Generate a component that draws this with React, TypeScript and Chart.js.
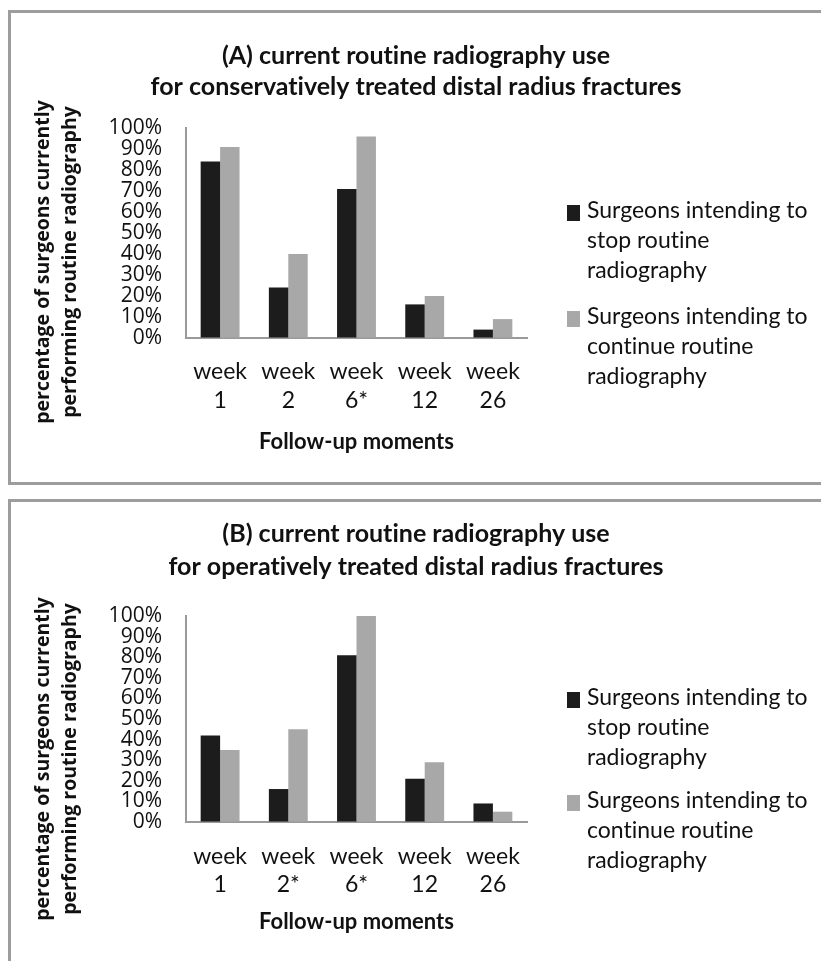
import React, { useEffect, useRef } from 'react';
import { Chart, registerables, layouts } from 'chart.js';

Chart.register(...registerables);

// ---------- data ----------
const categoriesA: string[][] = [['week', '1'], ['week', '2'], ['week', '6*'], ['week', '12'], ['week', '26']];
const categoriesB: string[][] = [['week', '1'], ['week', '2*'], ['week', '6*'], ['week', '12'], ['week', '26']];

const stopA = [84, 24, 71, 16, 4];
const continueA = [91, 40, 96, 20, 9];
const stopB = [42, 16, 81, 21, 9];
const continueB = [35, 45, 100, 29, 5];

const seriesNames = [
  'Surgeons intending to stop routine radiography',
  'Surgeons intending to continue routine radiography',
];

const titleA = ['(A) current routine radiography use', 'for conservatively treated distal radius fractures'];
const titleB = ['(B) current routine radiography use', 'for operatively treated distal radius fractures'];

const yAxisTitle = ['percentage of surgeons currently', 'performing routine radiography'];
const xAxisTitle = 'Follow-up moments';

const yMin = 0;
const yMax = 100;
const yStep = 10;

// ---------- styles ----------
const BLACK = '#1c1c1c';
const GREY = '#a8a8a8';
const TEXT = '#111111';
const AXIS = '#9a9a9a';
const CALIBRI = 'Lato, "Open Sans", sans-serif';
const SEGOE = '"Open Sans", "DejaVu Sans", sans-serif';

type Layout = {
  height: number;
  titleLH: number;
  titlePadTop: number;
  titlePadBottom: number;
  xLabelPad: number;
  xLabelLH: number;
  xHeight: number;
  padBottom: number;
  legendFirst: number;
  legendStep: number;
  yTitleShift: number;
};

const layoutA: Layout = {
  height: 469,
  titleLH: 31,
  titlePadTop: 27.5,
  titlePadBottom: 25.5,
  xLabelPad: 19.5,
  xLabelLH: 29,
  xHeight: 117,
  padBottom: 27,
  legendFirst: 83,
  legendStep: 106,
  yTitleShift: 29,
};

const layoutB: Layout = {
  height: 470,
  titleLH: 33,
  titlePadTop: 15.5,
  titlePadBottom: 32.5,
  xLabelPad: 21,
  xLabelLH: 28,
  xHeight: 113,
  padBottom: 37,
  legendFirst: 82,
  legendStep: 103,
  yTitleShift: 40,
};

const CANVAS_W = 810;
const Y_AXIS_W = 175;
const LEGEND_W = 294;
const TITLE_SIZE = 25;

function wrapText(ctx: CanvasRenderingContext2D, text: string, maxWidth: number): string[] {
  const words = text.split(' ');
  const lines: string[] = [];
  let cur = '';
  for (const w of words) {
    const test = cur ? cur + ' ' + w : w;
    if (ctx.measureText(test).width > maxWidth && cur) {
      lines.push(cur);
      cur = w;
    } else {
      cur = test;
    }
  }
  if (cur) lines.push(cur);
  return lines;
}

function BarPanel(props: {
  title: string[];
  categories: string[][];
  stop: number[];
  cont: number[];
  lay: Layout;
}) {
  const ref = useRef<HTMLCanvasElement | null>(null);

  useEffect(() => {
    const canvas = ref.current;
    if (!canvas) return;
    const lay = props.lay;

    const legendBox: any = {
      position: 'right',
      fullSize: false,
      weight: 0,
      options: { stack: undefined, stackWeight: 1 },
      left: 0,
      top: 0,
      right: 0,
      bottom: 0,
      width: 0,
      height: 0,
      isHorizontal() {
        return false;
      },
      update(_maxWidth: number, maxHeight: number) {
        this.width = LEGEND_W;
        this.height = maxHeight;
      },
      draw() {},
    };

    const plainText = {
      id: 'plainText',
      beforeUpdate(chart: any) {
        (chart.ctx as any).textRendering = 'optimizeSpeed';
      },
      beforeDraw(chart: any) {
        (chart.ctx as any).textRendering = 'optimizeSpeed';
      },
    };

    const sideLegend = {
      id: 'sideLegend',
      beforeInit(chart: any) {
        legendBox.draw = () => {
          const ctx: CanvasRenderingContext2D = chart.ctx;
          const area = chart.chartArea;
          ctx.save();
          ctx.font = `23px ${CALIBRI}`;
          ctx.textBaseline = 'middle';
          ctx.textAlign = 'left';
          let y = area.top + lay.legendFirst;
          chart.data.datasets.forEach((ds: any) => {
            const lines = wrapText(ctx, ds.label, 230);
            ctx.fillStyle = ds.backgroundColor;
            ctx.fillRect(area.right + 40, y - 8 + 2, 13, 16);
            ctx.fillStyle = TEXT;
            lines.forEach((ln, i) => ctx.fillText(ln, area.right + 60, y + i * 30));
            y += lay.legendStep;
          });
          ctx.restore();
        };
        layouts.addBox(chart, legendBox);
      },
    };

    const yTitlePlugin = {
      id: 'yTitle',
      afterDraw(chart: any) {
        const ctx: CanvasRenderingContext2D = chart.ctx;
        const area = chart.chartArea;
        const cy = (area.top + area.bottom) / 2 + lay.yTitleShift;
        const xs = [32, 59];
        ctx.save();
        ctx.font = `bold 19.5px ${SEGOE}`;
        ctx.fillStyle = TEXT;
        ctx.textAlign = 'center';
        ctx.textBaseline = 'middle';
        yAxisTitle.forEach((t, i) => {
          ctx.save();
          ctx.translate(xs[i], cy);
          ctx.rotate(-Math.PI / 2);
          ctx.fillText(t, 0, 0);
          ctx.restore();
        });
        ctx.restore();
      },
    };

    const chart = new Chart(canvas, {
      type: 'bar',
      data: {
        labels: props.categories,
        datasets: [
          { label: seriesNames[0], data: props.stop, backgroundColor: BLACK, borderWidth: 0 },
          { label: seriesNames[1], data: props.cont, backgroundColor: GREY, borderWidth: 0 },
        ],
      },
      plugins: [plainText, sideLegend, yTitlePlugin],
      options: {
        responsive: false,
        maintainAspectRatio: false,
        animation: false,
        events: [],
        layout: { autoPadding: false, padding: { left: 0, right: 0, top: 0, bottom: lay.padBottom } },
        datasets: { bar: { categoryPercentage: 0.57, barPercentage: 1 } } as any,
        plugins: {
          legend: { display: false },
          tooltip: { enabled: false },
          title: {
            display: true,
            text: props.title,
            color: TEXT,
            font: { family: CALIBRI, weight: 'bold', size: TITLE_SIZE, lineHeight: lay.titleLH / TITLE_SIZE },
            padding: { top: lay.titlePadTop, bottom: lay.titlePadBottom },
          },
        },
        scales: {
          x: {
            grid: { display: true, drawOnChartArea: false, drawTicks: false, color: 'rgba(0,0,0,0)' },
            border: { display: true, color: AXIS, width: 2 },
            ticks: {
              color: TEXT,
              font: { family: CALIBRI, size: 23, lineHeight: lay.xLabelLH / 23 },
              padding: lay.xLabelPad,
              maxRotation: 0,
              autoSkip: false,
            },
            title: {
              display: true,
              text: xAxisTitle,
              color: TEXT,
              font: { family: CALIBRI, weight: 'bold', size: 22, lineHeight: 26 / 22 },
              padding: 0,
            },
            afterFit: (s: any) => {
              s.height = lay.xHeight;
            },
          },
          y: {
            min: yMin,
            max: yMax,
            grid: { display: true, drawOnChartArea: false, drawTicks: false, color: 'rgba(0,0,0,0)' },
            border: { display: true, color: AXIS, width: 2 },
            ticks: {
              stepSize: yStep,
              autoSkip: false,
              color: TEXT,
              font: { family: SEGOE, size: 21 },
              padding: 24,
              callback: (v: any) => `${v}%`,
            },
            afterFit: (s: any) => {
              s.width = Y_AXIS_W;
            },
          },
        },
      } as any,
    });

    return () => chart.destroy();
  }, []);

  return (
    <canvas
      ref={ref}
      width={CANVAS_W}
      height={props.lay.height}
      style={{ display: 'block', width: CANVAS_W, height: props.lay.height }}
    />
  );
}

export default function App() {
  const panel: React.CSSProperties = {
    position: 'absolute',
    left: 8,
    width: 840,
    boxSizing: 'border-box',
    border: '3px solid #9d9d9d',
    background: '#fff',
    overflow: 'hidden',
  };
  return (
    <div
      style={{
        position: 'fixed',
        left: 0,
        top: 0,
        width: 821,
        height: 961,
        overflow: 'hidden',
        background: '#fff',
      }}
    >
      <div style={{ ...panel, top: 10, height: 475 }}>
        <BarPanel title={titleA} categories={categoriesA} stop={stopA} cont={continueA} lay={layoutA} />
      </div>
      <div style={{ ...panel, top: 499, height: 520 }}>
        <BarPanel title={titleB} categories={categoriesB} stop={stopB} cont={continueB} lay={layoutB} />
      </div>
    </div>
  );
}
